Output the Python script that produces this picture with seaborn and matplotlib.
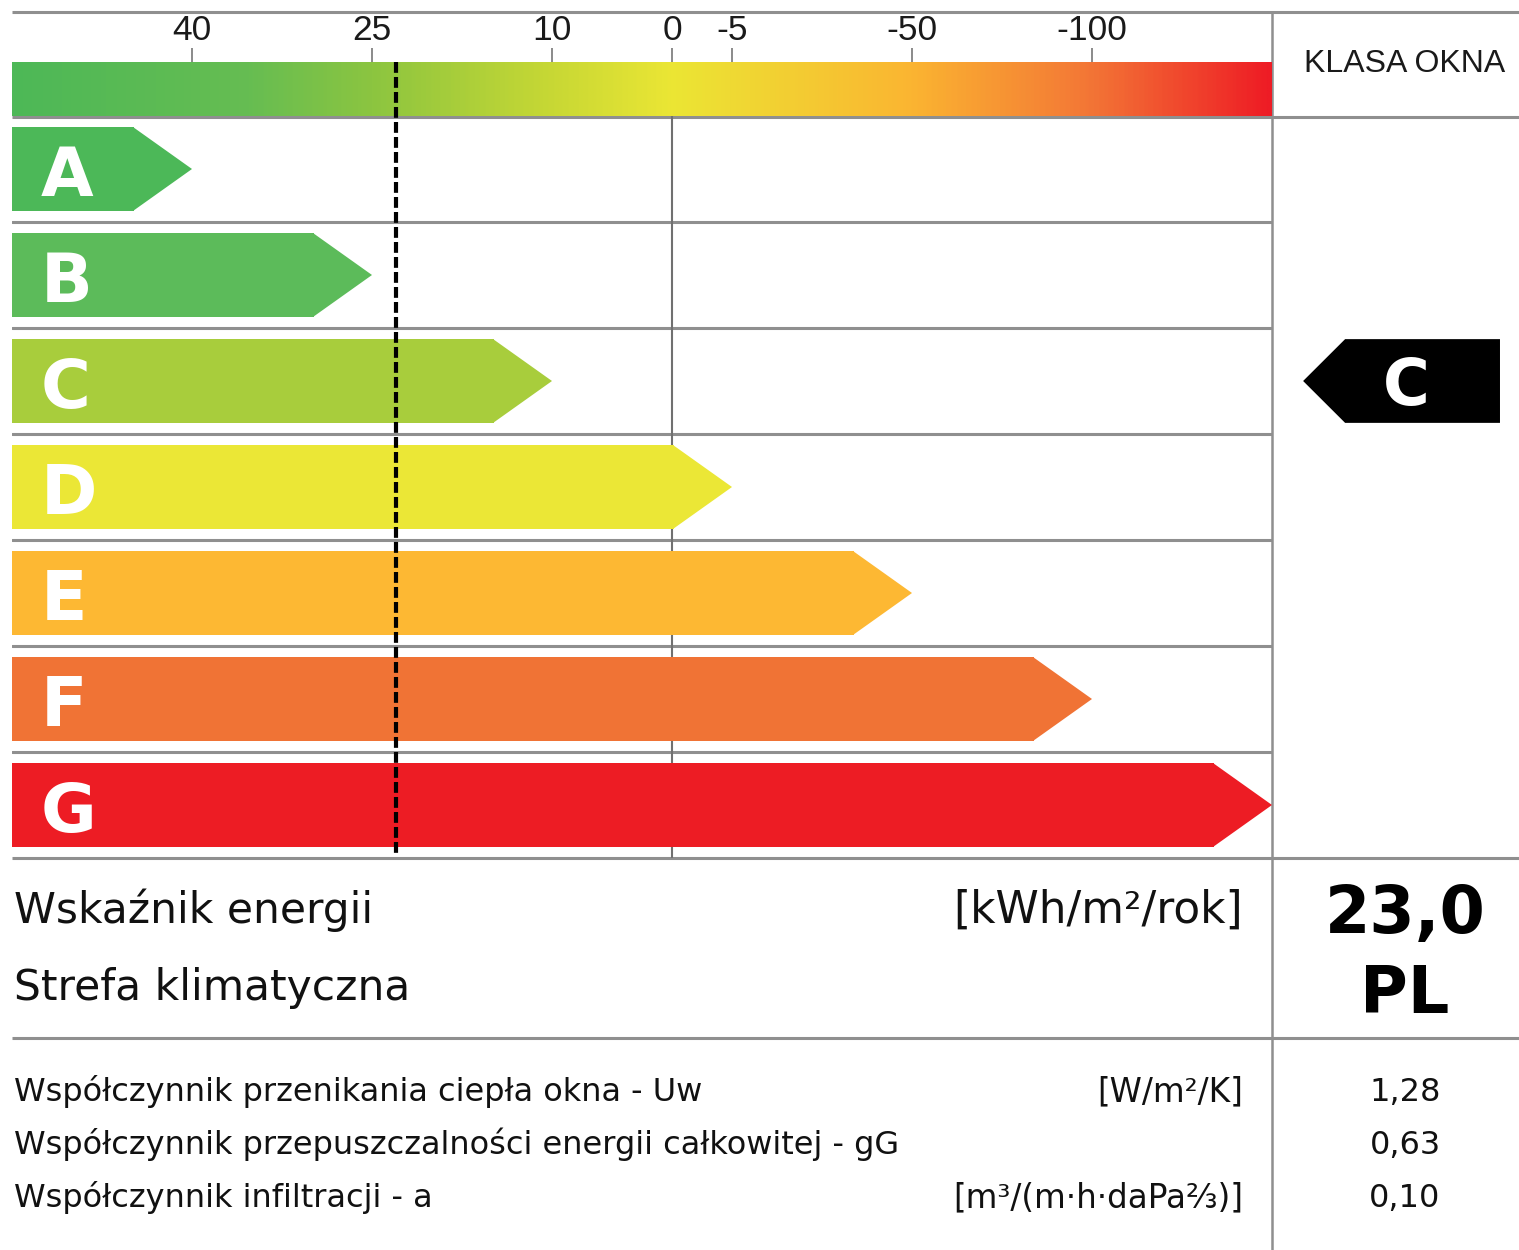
import numpy as np
import pandas as pd
import seaborn as sns
import matplotlib.pyplot as plt
from matplotlib import transforms
from matplotlib.lines import Line2D
from matplotlib.colors import LinearSegmentedColormap

sns.set_style("white")
plt.rcParams["font.family"] = ["DejaVu Sans"]

CLASSES = ["A", "B", "C", "D", "E", "F", "G"]
CLASS_BOUNDS = [40, 25, 10, -5, -50, -100]      # upper bound of A..F
SCALE_TICKS = [40, 25, 10, 0, -5, -50, -100]
ENERGY_VALUE = 23.0
RATED_CLASS = "C"
CLIMATE_ZONE = "PL"
ENERGY_LABEL = "Wskaźnik energii"
ENERGY_UNIT = "[kWh/m²/rok]"
ZONE_LABEL = "Strefa klimatyczna"
PARAM_NAMES = [
    "Współczynnik przenikania ciepła okna - Uw",
    "Współczynnik przepuszczalności energii całkowitej - gG",
    "Współczynnik infiltracji - a",
]
PARAM_UNITS = ["[W/m²/K]", "", "[m³/(m·h·daPa⅔)]"]
PARAM_VALUES = [1.28, 0.63, 0.10]

# --- styles ---
CLASS_COLORS = ["#4cb858", "#5cbb5a", "#a8cd3c", "#ebe736",
                "#fdb833", "#f07335", "#ed1c24"]
GRADIENT = [(0.0, "#4db857"), (1.3 / 7, "#66bd52"), (2 / 7, "#8cc540"),
            (3 / 7, "#c8d834"), (3.67 / 7, "#ebe634"), (5 / 7, "#fbb531"),
            (6 / 7, "#f37636"), (1.0, "#ee1c25")]
GRAY = "#8f8f8f"
NARROW = ["Liberation Sans", "DejaVu Sans"]
BAR_H = 0.79
TIP_LEN = 0.322


def fmt(v, nd):
    return f"{v:.{nd}f}".replace(".", ",")


def to_scale(v):
    """Piecewise linear scale: each class band is one unit wide."""
    pos = np.arange(1, len(CLASS_BOUNDS) + 1)
    return np.interp(-np.asarray(v, float), -np.asarray(CLASS_BOUNDS, float), pos)


tips = np.append(to_scale(CLASS_BOUNDS), len(CLASSES))
df = pd.DataFrame({"klasa": CLASSES, "body": tips - TIP_LEN})

W, H = 1519, 1250
fig = plt.figure(figsize=(W / 100, H / 100), dpi=100)


def box(x0, y0, x1, y1):
    return [x0 / W, 1 - y1 / H, (x1 - x0) / W, (y1 - y0) / H]


ax_bg = fig.add_axes([0, 0, 1, 1])
ax_bg.set_xlim(0, W)
ax_bg.set_ylim(H, 0)
ax_bg.axis("off")

ax_g = fig.add_axes(box(12, 62, 1272, 116))
ax = fig.add_axes(box(12, 116, 1272, 858))
ax_r = fig.add_axes(box(1272, 116, 1519, 858))

# frame lines
for y in [12, 117, 858, 1038]:
    ax_bg.plot([12, W], [y, y], color=GRAY, lw=2.2, solid_capstyle="butt")
ax_bg.plot([1272, 1272], [12, H], color=GRAY, lw=1.8)

# class bars
sns.barplot(data=df, x="body", y="klasa", hue="klasa", palette=CLASS_COLORS,
            orient="h", width=BAR_H, saturation=1, legend=False, ax=ax,
            linewidth=0)
for i, (tip, body, col) in enumerate(zip(tips, df["body"], CLASS_COLORS)):
    ax.fill([body - 0.005, tip, body - 0.005],
            [i - BAR_H / 2, i, i + BAR_H / 2], color=col, lw=0)
    ax.text(0.16, i + 0.255, CLASSES[i], color="white", fontsize=49,
            fontweight="bold", ha="left", va="baseline")
for k in range(1, len(CLASSES)):
    ax.axhline(k - 0.5, color=GRAY, lw=2.2, zorder=0)
ax.axvline(to_scale(0), color="#707070", lw=1.5, zorder=0)
ax.set_xlim(0, len(CLASSES))
ax.set_ylim(len(CLASSES) - 0.5, -0.5)
ax.axis("off")
ax.patch.set_visible(False)

# gradient scale
cmap = LinearSegmentedColormap.from_list("energy", GRADIENT)
ax_g.imshow(np.linspace(0, 1, 700)[None, :], aspect="auto", cmap=cmap,
            extent=(0, len(CLASSES), 0, 1))
ax_g.set_xlim(0, len(CLASSES))
ax_g.set_ylim(0, 1)
ax_g.set_yticks([])
ax_g.set_xticks(to_scale(SCALE_TICKS))
ax_g.set_xticklabels([str(t) for t in SCALE_TICKS], fontsize=25.5,
                     family=NARROW)
ax_g.tick_params(axis="x", top=True, labeltop=True, bottom=False,
                 labelbottom=False, direction="out", length=10, width=1.2,
                 color="#777777", labelcolor="#1a1a1a", pad=0.5)
for s in ax_g.spines.values():
    s.set_visible(False)

# dashed indicator of the energy value
trans = transforms.blended_transform_factory(ax.transData, ax_bg.transData)
xv = to_scale(ENERGY_VALUE)
fig.add_artist(Line2D([xv, xv], [62, 855], transform=trans, color="black",
                      lw=3.0, dashes=(2.6, 1.0), zorder=5))

# right panel: rated class
ri = CLASSES.index(RATED_CLASS)
ax_r.fill([0.126, 0.296, 0.923, 0.923, 0.296],
          [ri, ri - BAR_H / 2, ri - BAR_H / 2, ri + BAR_H / 2, ri + BAR_H / 2],
          color="black", lw=0)
ax_r.text(0.545, ri + 0.225, RATED_CLASS, color="white", fontsize=46,
          fontweight="bold", ha="center", va="baseline")
ax_r.set_xlim(0, 1)
ax_r.set_ylim(len(CLASSES) - 0.5, -0.5)
ax_r.axis("off")
ax_r.patch.set_visible(False)

ax_bg.text(1405, 72, "KLASA OKNA", ha="center", va="baseline", fontsize=23,
           family=NARROW, color="#1a1a1a")

# energy summary
ax_bg.text(14, 923, ENERGY_LABEL, fontsize=30.5, va="baseline", color="#111111")
ax_bg.text(1243, 923, ENERGY_UNIT, fontsize=31.5, va="baseline", ha="right",
           color="#111111")
ax_bg.text(14, 1000, ZONE_LABEL, fontsize=30.5, va="baseline", color="#111111")
ax_bg.text(1405, 933, fmt(ENERGY_VALUE, 1), fontsize=47, fontweight="bold",
           ha="center", va="baseline", color="black")
ax_bg.text(1405, 1013, CLIMATE_ZONE, fontsize=47, fontweight="bold",
           ha="center", va="baseline", color="black")

# parameters
for j, (name, unit, val) in enumerate(zip(PARAM_NAMES, PARAM_UNITS, PARAM_VALUES)):
    yb = 1101 + 53 * j
    ax_bg.text(14, yb, name, fontsize=23, va="baseline", color="#111111")
    if unit:
        ax_bg.text(1243, yb, unit, fontsize=23.5, va="baseline", ha="right",
                   color="#111111")
    ax_bg.text(1405, yb, fmt(val, 2), fontsize=23, va="baseline",
               ha="center", color="#111111")

fig.savefig("out.png", dpi=100)
plt.close(fig)
